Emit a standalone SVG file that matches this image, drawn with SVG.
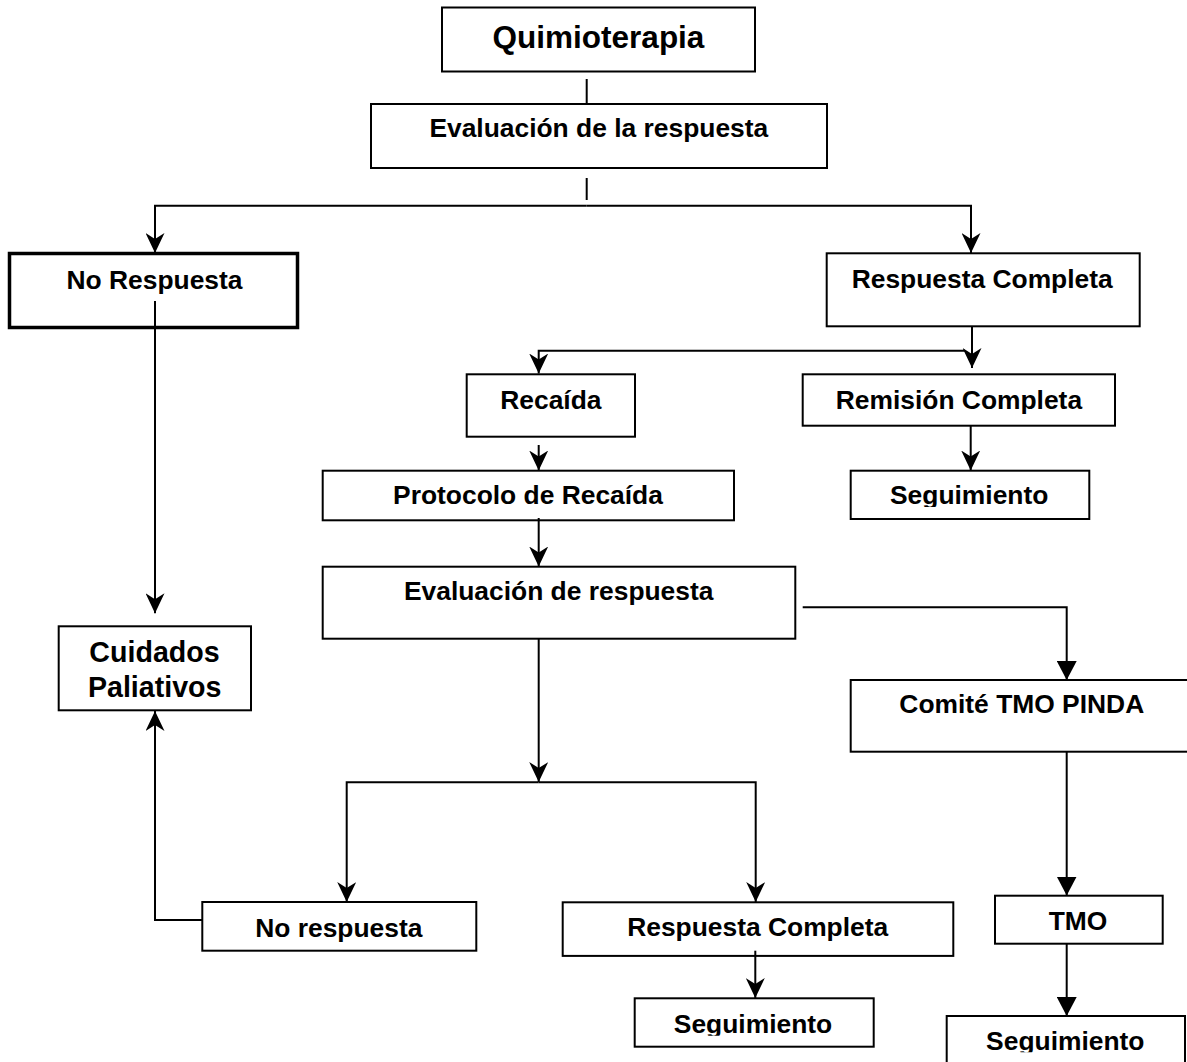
<svg xmlns="http://www.w3.org/2000/svg" width="1187" height="1062" viewBox="0 0 1187 1062">
<style>
.box{fill:#fff;stroke:#000;stroke-width:2}
.thick{stroke-width:3.5}
.txt{font-family:"Liberation Sans",Arial,Helvetica,sans-serif;font-weight:bold;font-size:26.4px;text-anchor:middle;fill:#000}
.conn{fill:none;stroke:#000;stroke-width:2}
.na{marker-end:url(#notch)}
.ta{marker-end:url(#tri)}
</style>
<defs>
<marker id="notch" markerUnits="userSpaceOnUse" markerWidth="20" markerHeight="19" viewBox="0 0 20 19" refX="20" refY="9.5" orient="auto">
<path d="M0,0 L20,9.5 L0,19 L6,9.5 Z" fill="#000"/>
</marker>
<marker id="tri" markerUnits="userSpaceOnUse" markerWidth="19" markerHeight="20" viewBox="0 0 19 20" refX="19" refY="10" orient="auto">
<path d="M0,0 L19,10 L0,20 Z" fill="#000"/>
</marker>
<clipPath id="clipS1"><rect x="850" y="470" width="240" height="37"/></clipPath>
<clipPath id="clipS2"><rect x="634" y="998" width="240" height="37.7"/></clipPath>
<clipPath id="clipS3"><rect x="946" y="1016" width="240" height="36.3"/></clipPath>
</defs>
<rect width="1187" height="1062" fill="#fff"/>

<g id="quimioterapia">
<rect class="box" x="442" y="7.5" width="313" height="64"/>
<text class="txt" x="598.5" y="48" style="font-size:31.5px">Quimioterapia</text>
</g>
<g id="evaluacion-respuesta">
<rect class="box" x="371" y="104" width="456" height="64"/>
<text class="txt" x="598.8" y="137.3">Evaluación de la respuesta</text>
</g>
<g id="no-respuesta">
<rect class="box thick" x="9.5" y="253.5" width="288" height="74"/>
<text class="txt" x="154.5" y="289.3">No Respuesta</text>
</g>
<g id="respuesta-completa">
<rect class="box" x="826.7" y="253.3" width="313" height="73"/>
<text class="txt" x="982.2" y="288.3">Respuesta Completa</text>
</g>
<g id="recaida">
<rect class="box" x="466.7" y="374.3" width="168.3" height="62.4"/>
<text class="txt" x="550.9" y="409">Recaída</text>
</g>
<g id="remision-completa">
<rect class="box" x="802.7" y="374.3" width="312.3" height="51.4"/>
<text class="txt" x="958.9" y="409">Remisión Completa</text>
</g>
<g id="protocolo-recaida">
<rect class="box" x="322.7" y="470.7" width="411.3" height="49.6"/>
<text class="txt" x="528" y="504.3">Protocolo de Recaída</text>
</g>
<g id="seguimiento-1">
<rect class="box" x="850.7" y="470.7" width="238.6" height="48.3"/>
<text class="txt" x="969.2" y="504" clip-path="url(#clipS1)">Seguimiento</text>
</g>
<g id="evaluacion-respuesta-2">
<rect class="box" x="322.7" y="566.7" width="472.6" height="72"/>
<text class="txt" x="558.7" y="600">Evaluación de respuesta</text>
</g>
<g id="cuidados-paliativos">
<rect class="box" x="58.7" y="626.3" width="192.3" height="84"/>
<text class="txt" x="154.5" y="662" style="font-size:28.6px">Cuidados</text>
<text class="txt" x="154.7" y="696.7" style="font-size:28.6px">Paliativos</text>
</g>
<g id="comite-tmo-pinda">
<rect class="box" x="850.7" y="680" width="340" height="71.7"/>
<text class="txt" x="1021.8" y="713.3">Comité TMO PINDA</text>
</g>
<g id="no-respuesta-2">
<rect class="box" x="202.3" y="902" width="274" height="48.7"/>
<text class="txt" x="338.8" y="936.7">No respuesta</text>
</g>
<g id="respuesta-completa-2">
<rect class="box" x="562.7" y="902.3" width="390.6" height="53.6"/>
<text class="txt" x="757.7" y="935.7">Respuesta Completa</text>
</g>
<g id="tmo">
<rect class="box" x="995" y="895.7" width="167.7" height="48"/>
<text class="txt" x="1078" y="930">TMO</text>
</g>
<g id="seguimiento-2">
<rect class="box" x="634.7" y="998.3" width="239" height="48.4"/>
<text class="txt" x="753" y="1033" clip-path="url(#clipS2)">Seguimiento</text>
</g>
<g id="seguimiento-3">
<rect class="box" x="946.7" y="1016" width="238.3" height="60"/>
<text class="txt" x="1065.3" y="1049.5" clip-path="url(#clipS3)">Seguimiento</text>
</g>

<g id="connectors">
<path class="conn" d="M586.7,79 V104"/>
<path class="conn" d="M586.7,178 V200"/>
<path class="conn na" d="M586.7,205.7 H155 V253"/>
<path class="conn na" d="M586.7,205.7 H971 V253"/>
<path class="conn na" d="M155,301 V613.3"/>
<path class="conn na" d="M972,326 V368"/>
<path class="conn na" d="M965,350.7 H538.7 V373.5"/>
<path class="conn na" d="M538.7,445 V470.5"/>
<path class="conn na" d="M970.7,425.7 V470.5"/>
<path class="conn na" d="M538.7,518 V566.5"/>
<path class="conn ta" d="M802.7,607.3 H1066.7 V680"/>
<path class="conn na" d="M538.7,638.7 V782"/>
<path class="conn na" d="M538.7,782.3 H346.7 V902"/>
<path class="conn na" d="M538.7,782.3 H755.7 V902"/>
<path class="conn na" d="M202.3,920 H155 V711"/>
<path class="conn na" d="M755.3,950.7 V998"/>
<path class="conn ta" d="M1066.7,751.7 V895.5"/>
<path class="conn ta" d="M1066.7,943.7 V1016"/>
</g>
</svg>
